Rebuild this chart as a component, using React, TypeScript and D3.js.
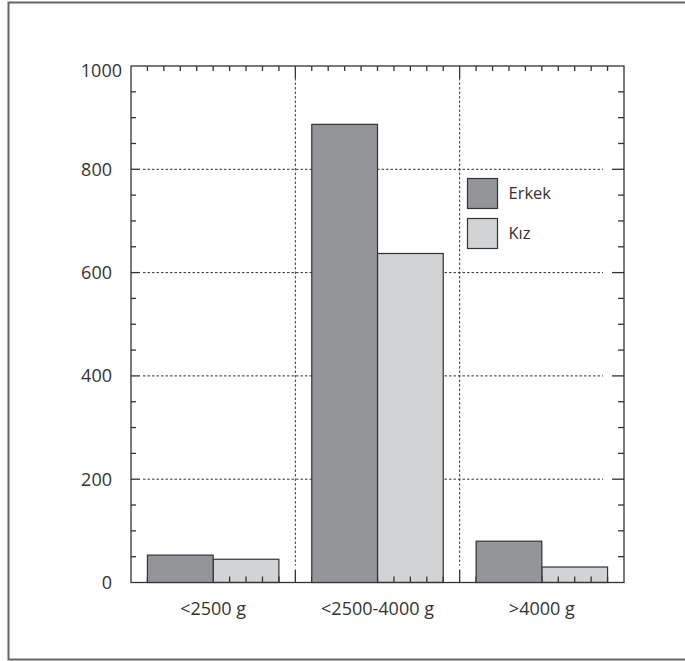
import React from 'react'
import * as d3 from 'd3'

// weight groups and the two series
const categories = ['<2500 g', '<2500-4000 g', '>4000 g']
const seriesNames = ['Erkek', 'Kız']
const erkek = [53, 887, 80]
const kiz = [45, 637, 30]
const yTicks = [0, 200, 400, 600, 800, 1000]

const W = 685
const H = 661
const margin = { left: 131, right: 61, top: 66, bottom: 78.5 }
const colors = ['#939598', '#d1d3d4']
const ink = '#333'
const font = '"Open Sans", sans-serif'

const App = () => {
  const x0 = margin.left
  const x1 = W - margin.right
  const yTop = margin.top
  const yBot = H - margin.bottom

  const x = d3.scaleBand().domain(categories).range([x0, x1]).paddingInner(0).paddingOuter(0)
  const xs = d3.scaleBand().domain(seriesNames).range([x.bandwidth() * 0.1, x.bandwidth() * 0.9])
  const y = d3.scaleLinear().domain([0, 1000]).range([yBot, yTop])
  // minor tick scale: 10 ticks per category
  const xt = d3.scaleLinear().domain([0, categories.length * 10]).range([x0, x1])

  const minorY = y.ticks(20).filter(v => !yTicks.includes(v))
  const minorX = xt.ticks(30).filter(v => v % 10 !== 0)
  const majorX = xt.ticks(30).filter(v => v % 10 === 0 && v > 0 && v < 30)

  const rows = categories.map((c, i) => ({ cat: c, values: [erkek[i], kiz[i]] }))

  const bar = (si: number) =>
    rows.map((r, i) => (
      <rect
        key={`${si}-${i}`}
        x={x(r.cat)! + xs(seriesNames[si])!}
        y={y(r.values[si])}
        width={xs.bandwidth()}
        height={yBot - y(r.values[si])}
        fill={colors[si]}
        stroke={ink}
        strokeWidth={1.2}
      />
    ))

  return (
    <div style={{ position: 'absolute', left: 0, top: 0 }}>
      <svg width={W} height={H} style={{ display: 'block', fontFamily: font }}>
        {/* outer frame */}
        <path d={`M${W + 5},2.5 H8.5 V659.5 H${W + 5}`} fill="none" stroke="#666" strokeWidth={2} />

        {/* grid */}
        <g stroke={ink} strokeWidth={1} strokeDasharray="2.5,2">
          {yTicks.filter(v => v > 0 && v < 1000).map(v => (
            <line key={v} x1={x0 + 12} x2={x1 - 21} y1={y(v)} y2={y(v)} />
          ))}
          {majorX.map(v => (
            <line key={v} x1={xt(v)} x2={xt(v)} y1={yTop + 12} y2={yBot - 17} />
          ))}
        </g>

        {/* light bars below the axis ticks */}
        <g>{bar(1)}</g>

        {/* axis box and ticks */}
        <g stroke={ink} strokeWidth={1.3} fill="none">
          <rect x={x0} y={yTop} width={x1 - x0} height={yBot - yTop} />
          {yTicks.filter(v => v > 0 && v < 1000).map(v => (
            <g key={v}>
              <line x1={x0} x2={x0 + 9} y1={y(v)} y2={y(v)} />
              <line x1={x1} x2={x1 - 12} y1={y(v)} y2={y(v)} />
            </g>
          ))}
          {minorY.map(v => (
            <g key={v}>
              <line x1={x0} x2={x0 + 5} y1={y(v)} y2={y(v)} />
              <line x1={x1} x2={x1 - 6} y1={y(v)} y2={y(v)} />
            </g>
          ))}
          {minorX.map(v => (
            <g key={v}>
              <line x1={xt(v)} x2={xt(v)} y1={yTop} y2={yTop + 5} />
              <line x1={xt(v)} x2={xt(v)} y1={yBot} y2={yBot - 6} />
            </g>
          ))}
          {majorX.map(v => (
            <g key={v}>
              <line x1={xt(v)} x2={xt(v)} y1={yTop} y2={yTop + 12} />
              <line x1={xt(v)} x2={xt(v)} y1={yBot} y2={yBot - 13} />
            </g>
          ))}
        </g>

        {/* dark bars */}
        <g>{bar(0)}</g>

        {/* y labels */}
        <g fill={ink} fontSize={18} textAnchor="end">
          {yTicks.map(v => (
            <text key={v} x={v === 1000 ? 122 : 112} y={y(v) + (v === 1000 ? 5 : 0)} dy="0.35em">
              {v}
            </text>
          ))}
        </g>

        {/* x labels */}
        <g fill={ink} fontSize={18} textAnchor="middle">
          {categories.map(c => (
            <text key={c} x={x(c)! + x.bandwidth() / 2} y={yBot + 32}>
              {c}
            </text>
          ))}
        </g>

        {/* legend */}
        <g transform="translate(467.5,178.5)">
          {seriesNames.map((s, i) => (
            <g key={s} transform={`translate(0,${i * 40})`}>
              <rect width={30} height={30} fill={colors[i]} stroke={ink} strokeWidth={1.2} />
              <text x={41} y={15} dy="0.35em" fontSize={16.5} fill={ink}>
                {s}
              </text>
            </g>
          ))}
        </g>
      </svg>
    </div>
  )
}

export default App
